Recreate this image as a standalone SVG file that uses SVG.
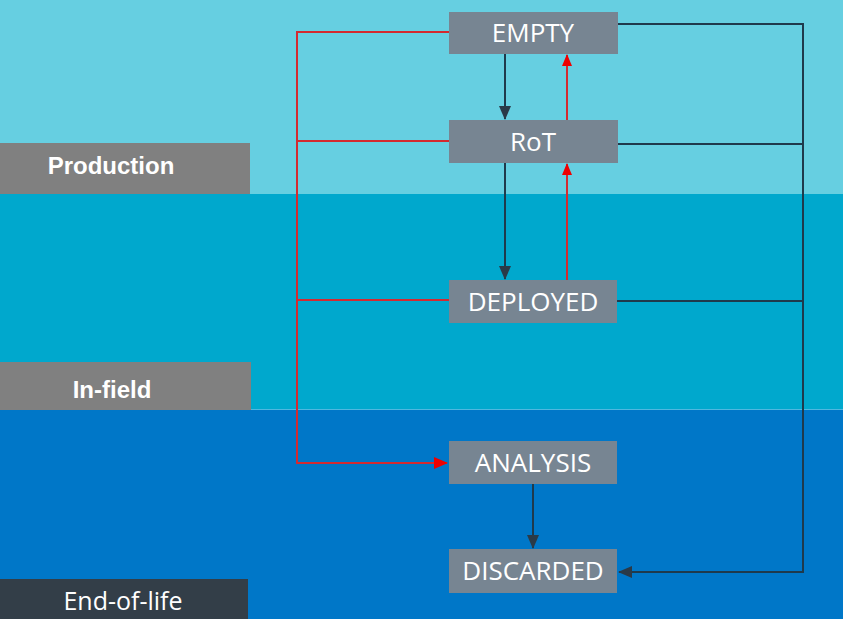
<svg xmlns="http://www.w3.org/2000/svg" width="843" height="619" viewBox="0 0 843 619">
<style>
.node rect{fill:#778592}
.node text{fill:#ffffff;font-family:"Open Sans","Noto Sans",sans-serif;font-size:26px;text-anchor:middle}
.lane rect{fill:#808080}
.lane text{fill:#ffffff;font-family:"Liberation Sans",Arial,sans-serif;font-size:24px;font-weight:bold;text-anchor:middle}
.dk{stroke:#1f3a4c;stroke-width:2;fill:none}
.rd{stroke:#d42a30;stroke-width:2;fill:none}
</style>
<defs>
<marker id="ad" markerWidth="14" markerHeight="12" refX="13" refY="6" orient="auto" markerUnits="userSpaceOnUse" viewBox="0 0 14 12">
<path d="M0,0 L14,6 L0,12 z" fill="#2a3a48"/>
</marker>
<marker id="ar" markerWidth="12" markerHeight="10" refX="11" refY="5" orient="auto" markerUnits="userSpaceOnUse" viewBox="0 0 12 10">
<path d="M0,0 L12,5 L0,10 z" fill="#ee0000"/>
</marker>
<marker id="ard" markerWidth="14" markerHeight="12" refX="13" refY="6" orient="auto" markerUnits="userSpaceOnUse" viewBox="0 0 14 12">
<path d="M0,0 L14,6 L0,12 z" fill="#ee0000"/>
</marker>
</defs>
<rect x="0" y="0" width="843" height="194" fill="#66cfe1"/>
<rect x="0" y="194" width="843" height="215" fill="#00a8cd"/>
<rect x="0" y="409" width="843" height="210" fill="#0077c8"/>
<line x1="0" y1="409.5" x2="843" y2="409.5" stroke="#4fb8e0" stroke-width="1"/>

<g id="lane-production" class="lane"><rect x="0" y="143" width="250" height="51"/><text x="111" y="174">Production</text></g>
<g id="lane-infield" class="lane"><rect x="0" y="362" width="251" height="48"/><text x="112" y="398">In-field</text></g>
<g id="lane-eol"><rect x="0" y="579" width="248" height="40" fill="#333e48"/><text x="123" y="610" fill="#ffffff" font-family="Open Sans, Noto Sans, sans-serif" font-size="25" text-anchor="middle">End-of-life</text></g>

<g id="connectors">
<polyline class="rd" points="449,32 297,32 297,463 447,463" marker-end="url(#ard)"/>
<line class="rd" x1="297" y1="141" x2="449" y2="141"/>
<line class="rd" x1="297" y1="300" x2="449" y2="300"/>
<line class="dk" x1="505" y1="54" x2="505" y2="119" marker-end="url(#ad)"/>
<line class="dk" x1="505" y1="163" x2="505" y2="279" marker-end="url(#ad)"/>
<line class="rd" x1="567" y1="120" x2="567" y2="55" marker-end="url(#ar)"/>
<line class="rd" x1="567" y1="280" x2="567" y2="164" marker-end="url(#ar)"/>
<line class="dk" x1="533" y1="484" x2="533" y2="548" marker-end="url(#ad)"/>
<polyline class="dk" points="617,24 803,24 803,572 619,572" marker-end="url(#ad)"/>
<line class="dk" x1="617" y1="144" x2="803" y2="144"/>
<line class="dk" x1="617" y1="301" x2="803" y2="301"/>
</g>

<g id="node-empty" class="node"><rect x="449" y="12" width="169" height="42"/><text x="533" y="42">EMPTY</text></g>
<g id="node-rot" class="node"><rect x="449" y="120" width="169" height="43"/><text x="533" y="151">RoT</text></g>
<g id="node-deployed" class="node"><rect x="449" y="280" width="168" height="43"/><text x="533" y="311">DEPLOYED</text></g>
<g id="node-analysis" class="node"><rect x="449" y="441" width="168" height="43"/><text x="533" y="472">ANALYSIS</text></g>
<g id="node-discarded" class="node"><rect x="449" y="549" width="168" height="44"/><text x="533" y="580">DISCARDED</text></g>
</svg>
